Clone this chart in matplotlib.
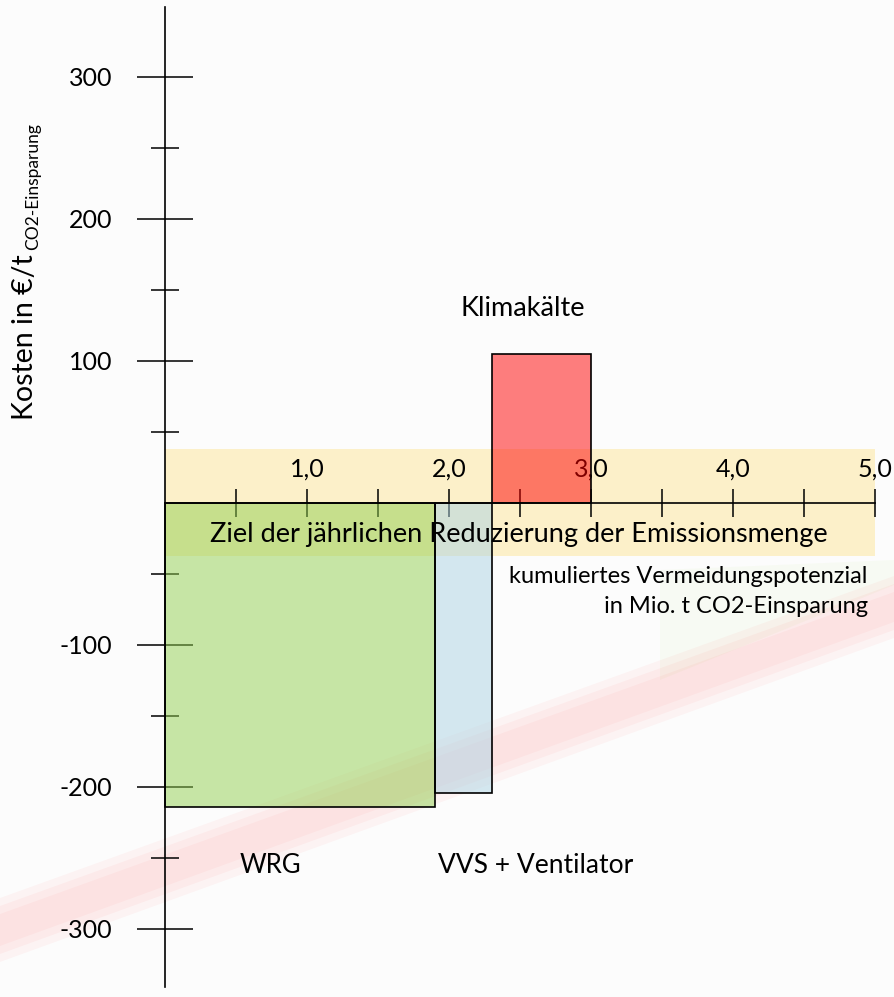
import matplotlib
matplotlib.use('Agg')
import matplotlib.pyplot as plt
from matplotlib.patches import Polygon

plt.rcParams['font.family'] = ['Lato', 'DejaVu Sans']

# Massnahmen: Breite = Vermeidungspotenzial (Mio. t), Hoehe = Kosten (EUR/t)
massnahmen = ['WRG', 'VVS + Ventilator', 'Klimakälte']
potenzial = [1.9, 0.4, 0.7]
kosten = [-214, -204, 105]
farben = ['#92d050', '#acd4e4', '#ff0000']

ziel_unten = -37
ziel_oben = 38

x_major = [1, 2, 3, 4, 5]
x_labels = ['1,0', '2,0', '3,0', '4,0', '5,0']
x_minor = [0.5, 1.5, 2.5, 3.5, 4.5]
y_major = [-300, -200, -100, 100, 200, 300]
y_minor = [-250, -150, -50, 50, 150, 250]

fig = plt.figure(figsize=(8.94, 9.97), dpi=100, facecolor='#fcfcfc')
ax = fig.add_axes([0, 0, 1, 1])
ax.set_facecolor('#fcfcfc')
ax.set_xlim(-1.162, 5.134)
ax.set_ylim(-347.9, 354.2)


def px(x, y):
    # Pixel -> Achsenanteil (nur fuer das Wasserzeichen im Hintergrund)
    return (x / 894, 1 - y / 997)


# Hintergrund (Wasserzeichen)
ax.add_patch(Polygon([px(660, 570), px(894, 560), px(894, 585), px(660, 680)], closed=True,
                     transform=ax.transAxes, facecolor='#99dd33', alpha=0.045, lw=0, zorder=0.1))
for oben, unten, a in [(0, 0, 0.035), (8, -8, 0.035), (16, -16, 0.03)]:
    ax.add_patch(Polygon([px(0, 898 + oben), px(894, 576 + oben), px(894, 638 + unten), px(0, 962 + unten)],
                         closed=True, transform=ax.transAxes, facecolor='#ff0000', alpha=a, lw=0,
                         zorder=0.1))

# Zielband
ax.fill_between([0, 5], ziel_unten, ziel_oben, facecolor='#ffc000', alpha=0.2, lw=0, zorder=0.3)

# Balken
links = 0
for name, b, k, f in zip(massnahmen, potenzial, kosten, farben):
    ax.bar(links, k, width=b, align='edge', color=f, alpha=0.5, zorder=1)
    ax.bar(links, k, width=b, align='edge', facecolor='none', edgecolor='black', lw=1.2, zorder=1.1)
    links += b

# Achsen
ax.set_axisbelow(True)
for s in ['right', 'bottom']:
    ax.spines[s].set_visible(False)
ax.spines['left'].set_position(('data', 0))
ax.spines['left'].set_bounds(-341, 349)
ax.spines['top'].set_position(('data', 0))
ax.spines['top'].set_bounds(0, 5)
for s in ['left', 'top']:
    ax.spines[s].set_linewidth(1.2)
    ax.spines[s].set_zorder(2.5)

ax.xaxis.tick_top()
ax.set_xticks(x_major)
ax.set_xticklabels(x_labels)
ax.set_xticks(x_minor, minor=True)
ax.set_yticks(y_major)
ax.set_yticklabels([str(v) for v in y_major])
ax.set_yticks(y_minor, minor=True)
ax.tick_params(axis='x', which='both', direction='inout', length=20, width=1.1, pad=6, labelsize=18)
ax.tick_params(axis='y', which='major', direction='inout', length=40, width=1.1, pad=18, labelsize=18)
ax.tick_params(axis='y', which='minor', direction='inout', length=20, width=1.1)

# Texte
ax.text(2.49, -22.5, 'Ziel der jährlichen Reduzierung der Emissionsmenge', ha='center', va='center',
        fontsize=19.5, zorder=3)
ax.text(4.95, -52, 'kumuliertes Vermeidungspotenzial', ha='right', va='center', fontsize=17)
ax.text(4.95, -73, 'in Mio. t CO2-Einsparung', ha='right', va='center', fontsize=17)
ax.text(2.52, 137, 'Klimakälte', ha='center', va='center', fontsize=19.5)
ax.text(0.74, -255, 'WRG', ha='center', va='center', fontsize=18.5)
ax.text(2.61, -255, 'VVS + Ventilator', ha='center', va='center', fontsize=19)

ax.text(-0.930, 58.5, 'Kosten in €/t', rotation=90, rotation_mode='anchor', ha='left', va='baseline',
        fontsize=20.5)
ax.text(-0.894, 178, 'CO2-Einsparung', rotation=90, rotation_mode='anchor', ha='left', va='baseline',
        fontsize=12.5)

fig.savefig('out.png', dpi=100, facecolor=fig.get_facecolor())
